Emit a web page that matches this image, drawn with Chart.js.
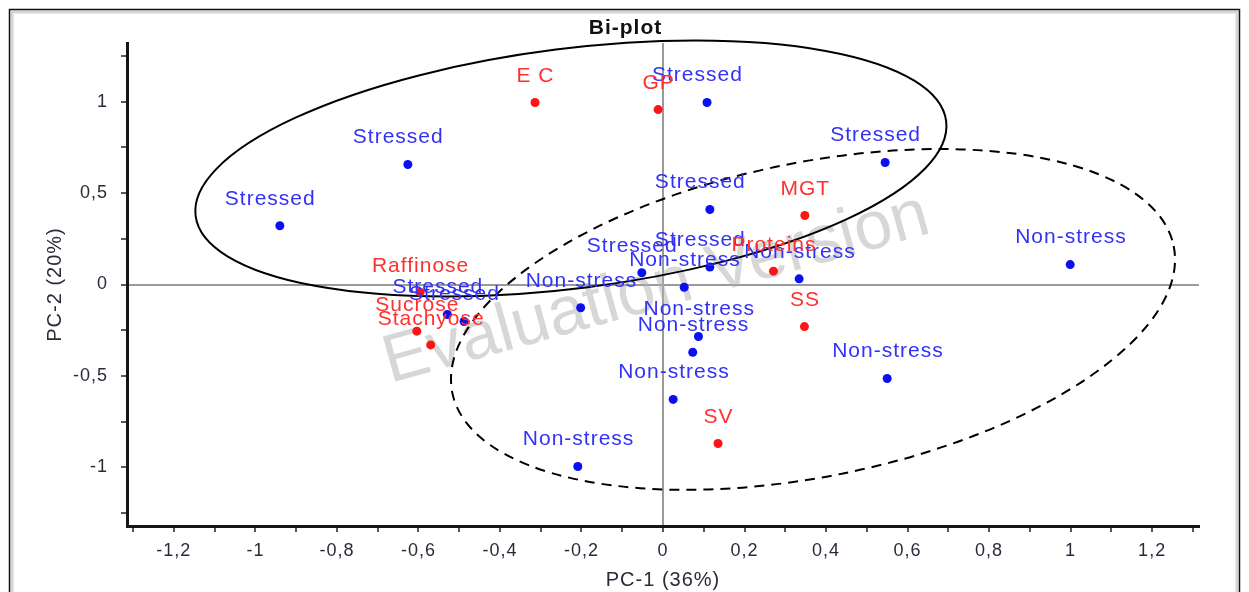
<!DOCTYPE html>
<html>
<head>
<meta charset="utf-8">
<title>Bi-plot</title>
<script src="https://cdn.jsdelivr.net/npm/chart.js@4.4.1/dist/chart.umd.min.js"></script>
<style>
  html, body { margin: 0; padding: 0; background: #ffffff; }
  #wrap { position: relative; width: 1249px; height: 592px; }
  canvas { display: block; }
</style>
</head>
<body>
<div id="wrap"><canvas id="biplot" width="1249" height="592"></canvas></div>
<script>
// ---- Scores of the samples (PC-1, PC-2) ----
const stressedX = [-0.940, -0.626, 0.108, 0.545, 0.115, -0.052, 0.115, -0.529, -0.488];
const stressedY = [ 0.321,  0.656, 0.995, 0.667, 0.410,  0.064, 0.095, -0.164, -0.202];

const nonStressX = [0.999, 0.334,  0.052, -0.202,  0.087,  0.073,  0.550,  0.025, -0.209];
const nonStressY = [0.109, 0.031, -0.015, -0.127, -0.284, -0.370, -0.514, -0.628, -0.995];

// ---- Loadings of the measured variables ----
const variableNames = ['E C', 'GP', 'MGT', 'Proteins', 'SS', 'SV', 'Raffinose', 'Sucrose', 'Stachyose'];
const variableX = [-0.314, -0.012, 0.348, 0.271,  0.347,  0.135, -0.596, -0.604, -0.570];
const variableY = [ 0.995,  0.956, 0.377, 0.073, -0.230, -0.869, -0.042, -0.255, -0.330];

// ---- Axis ticks ----
const xTickValues = [-1.2, -1, -0.8, -0.6, -0.4, -0.2, 0, 0.2, 0.4, 0.6, 0.8, 1, 1.2];
const xTickLabels = ['-1,2', '-1', '-0,8', '-0,6', '-0,4', '-0,2', '0', '0,2', '0,4', '0,6', '0,8', '1', '1,2'];
const xMinorTicks = [-1.3, -1.1, -0.9, -0.7, -0.5, -0.3, -0.1, 0.1, 0.3, 0.5, 0.7, 0.9, 1.1, 1.3];
const yTickValues = [-1, -0.5, 0, 0.5, 1];
const yTickLabels = ['-1', '-0,5', '0', '0,5', '1'];
const yMinorTicks = [-1.25, -0.75, -0.25, 0.25, 0.75, 1.25];

// ---- Group ellipses (centre and semi-axes in PC-1 units, tilt in degrees) ----
const groupEllipses = [
  { cx: -0.226, cy: 0.634, rx: 0.928, ry: 0.294, tilt: -7.2, dash: [] },
  { cx: 0.368, cy: -0.191, rx: 0.903, ry: 0.385, tilt: -11.5, dash: [10, 7] }
];

const FONT = '"Liberation Sans", Arial, Helvetica, sans-serif';
const TEXT_DARK = '#2d2a38';

const toPoints = (xs, ys) => xs.map((x, i) => ({ x: x, y: ys[i] }));

function buildTicks(major, minor) {
  return major.concat(minor).sort((a, b) => a - b).map(v => ({ value: v }));
}

// Page frame, title, watermark, group ellipses and point captions
const decorPlugin = {
  id: 'decor',
  beforeDraw(chart) {
    const ctx = chart.ctx;
    ctx.save();
    ctx.fillStyle = '#ffffff';
    ctx.fillRect(0, 0, chart.width, chart.height);
    ctx.strokeStyle = '#d6d6d6';
    ctx.lineWidth = 3;
    ctx.strokeRect(12, 12, chart.width - 24, chart.height + 20);
    ctx.strokeStyle = '#111111';
    ctx.lineWidth = 1.5;
    ctx.strokeRect(9.5, 9.5, chart.width - 19, chart.height + 20);

    // chart title, centred on the page
    ctx.font = 'bold 21px ' + FONT;
    ctx.letterSpacing = '1px';
    ctx.fillStyle = '#111111';
    ctx.textAlign = 'center';
    ctx.textBaseline = 'middle';
    ctx.fillText('Bi-plot', chart.width / 2 + 1, 28);
    ctx.restore();
    ctx.letterSpacing = '1px';
  },
  beforeDatasetsDraw(chart) {
    const ctx = chart.ctx;
    const xs = chart.scales.x, ys = chart.scales.y;
    const area = chart.chartArea;

    // watermark
    ctx.save();
    ctx.font = '68px ' + FONT;
    ctx.letterSpacing = '0px';
    ctx.fillStyle = 'rgba(175,175,175,0.5)';
    ctx.textAlign = 'left';
    ctx.textBaseline = 'alphabetic';
    ctx.translate(area.left + 263, area.top + 340);
    ctx.rotate(-15.5 * Math.PI / 180);
    ctx.fillText('Evaluation Version', 0, 0);
    ctx.restore();

    // ellipses
    ctx.save();
    ctx.strokeStyle = '#000000';
    ctx.lineWidth = 2;
    groupEllipses.forEach(e => {
      const px = xs.getPixelForValue(e.cx);
      const py = ys.getPixelForValue(e.cy);
      const rx = xs.getPixelForValue(e.cx + e.rx) - px;
      const ry = xs.getPixelForValue(e.cx + e.ry) - px;
      ctx.setLineDash(e.dash);
      ctx.beginPath();
      ctx.ellipse(px, py, rx, ry, e.tilt * Math.PI / 180, 0, Math.PI * 2);
      ctx.stroke();
    });
    ctx.restore();
  },
  afterDatasetsDraw(chart) {
    const ctx = chart.ctx;
    ctx.save();
    ctx.font = '21px ' + FONT;
    ctx.letterSpacing = '1px';
    ctx.textBaseline = 'middle';
    chart.data.datasets.forEach((ds, di) => {
      const meta = chart.getDatasetMeta(di);
      ctx.fillStyle = ds.labelColor;
      meta.data.forEach((pt, i) => {
        const text = ds.pointLabels[i];
        if (ds.labelAnchor === 'left') {
          ctx.textAlign = 'left';
          ctx.fillText(text, pt.x - 55, pt.y - 27);
        } else {
          ctx.textAlign = 'center';
          ctx.fillText(text, pt.x + 0.5, pt.y - 26);
        }
      });
    });
    ctx.restore();
  }
};

const tickFont = { family: FONT, size: 18 };
const titleFont = { family: FONT, size: 20 };

new Chart(document.getElementById('biplot'), {
  type: 'scatter',
  data: {
    datasets: [
      {
        label: 'Stressed',
        data: toPoints(stressedX, stressedY),
        pointLabels: stressedX.map(() => 'Stressed'),
        labelAnchor: 'left',
        labelColor: '#3232f6',
        pointBackgroundColor: '#0a10f2',
        pointBorderWidth: 0,
        pointRadius: 4.5
      },
      {
        label: 'Non-stress',
        data: toPoints(nonStressX, nonStressY),
        pointLabels: nonStressX.map(() => 'Non-stress'),
        labelAnchor: 'left',
        labelColor: '#3232f6',
        pointBackgroundColor: '#0a10f2',
        pointBorderWidth: 0,
        pointRadius: 4.5
      },
      {
        label: 'Variables',
        data: toPoints(variableX, variableY),
        pointLabels: variableNames,
        labelAnchor: 'center',
        labelColor: '#ff3030',
        pointBackgroundColor: '#ff1414',
        pointBorderWidth: 0,
        pointRadius: 4.5
      }
    ]
  },
  options: {
    responsive: false,
    animation: false,
    devicePixelRatio: 1,
    layout: { padding: { left: 0, right: 50, top: 43, bottom: 0 } },
    plugins: {
      legend: { display: false },
      tooltip: { enabled: false },
      title: { display: false }
    },
    scales: {
      x: {
        type: 'linear',
        position: 'bottom',
        min: -1.315,
        max: 1.315,
        afterBuildTicks: s => { s.ticks = buildTicks(xTickValues, xMinorTicks); },
        afterFit: s => { s.height = 66; },
        ticks: {
          autoSkip: false,
          maxRotation: 0,
          minRotation: 0,
          padding: 8,
          color: TEXT_DARK,
          font: tickFont,
          callback: v => {
            const k = xTickValues.findIndex(t => Math.abs(t - v) < 1e-9);
            return k >= 0 ? xTickLabels[k] : '';
          }
        },
        grid: {
          drawOnChartArea: true,
          drawTicks: true,
          tickLength: 6,
          tickWidth: 1.5,
          tickColor: '#222222',
          color: c => (c.tick && Math.abs(c.tick.value) < 1e-9 ? '#9a9a9a' : 'rgba(0,0,0,0)'),
          lineWidth: 2
        },
        border: { display: true, color: '#161616', width: 3 },
        title: {
          display: true,
          text: 'PC-1 (36%)',
          color: TEXT_DARK,
          font: titleFont,
          padding: { top: 1, bottom: 0 }
        }
      },
      y: {
        type: 'linear',
        position: 'left',
        min: -1.32,
        max: 1.32,
        afterBuildTicks: s => { s.ticks = buildTicks(yTickValues, yMinorTicks); },
        afterFit: s => { s.width = 127; },
        ticks: {
          autoSkip: false,
          padding: 13,
          color: TEXT_DARK,
          font: tickFont,
          callback: v => {
            const k = yTickValues.findIndex(t => Math.abs(t - v) < 1e-9);
            return k >= 0 ? yTickLabels[k] : '';
          }
        },
        grid: {
          drawOnChartArea: true,
          drawTicks: true,
          tickLength: 6,
          tickWidth: 1.5,
          tickColor: '#222222',
          color: c => (c.tick && Math.abs(c.tick.value) < 1e-9 ? '#9a9a9a' : 'rgba(0,0,0,0)'),
          lineWidth: 2
        },
        border: { display: true, color: '#161616', width: 3 },
        title: {
          display: true,
          text: 'PC-2 (20%)',
          color: TEXT_DARK,
          font: titleFont,
          padding: { top: 43, bottom: 0 }
        }
      }
    }
  },
  plugins: [decorPlugin]
});
</script>
</body>
</html>
